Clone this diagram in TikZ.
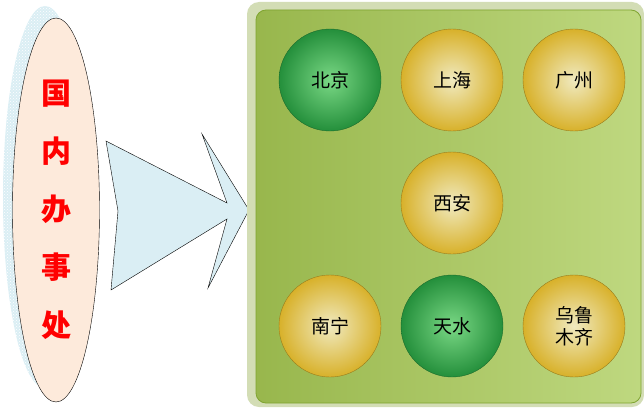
\documentclass[tikz,border=0pt]{standalone}
\usepackage{fontspec}
\newfontfamily\cjk{Noto Sans CJK SC}
\usetikzlibrary{patterns,shapes.geometric}
\definecolor{pale}{HTML}{D3DDB5}
\definecolor{panel}{HTML}{A9CB55}
\definecolor{panelb}{HTML}{7FA430}
\definecolor{gold}{HTML}{D8B12A}
\definecolor{goldin}{HTML}{F0EAC0}
\definecolor{gr}{HTML}{2DB34A}
\definecolor{grin}{HTML}{7AD885}
\definecolor{skin}{HTML}{FDEADB}
\definecolor{lblue}{HTML}{DAEEF4}
\tikzset{
 city/.style={circle,minimum size=102pt,inner sep=0pt,draw=gold!70!black,line width=0.4pt,
   inner color=goldin,outer color=gold,font=\cjk\fontsize{19pt}{22pt}\selectfont,align=center},
 citygreen/.style={city,inner color=grin,outer color=gr!80!black,draw=gr!60!black},
}
\begin{document}
\begin{tikzpicture}[x=1pt,y=-1pt]
\useasboundingbox (0,0) rectangle (644,409);
% left ellipse
\fill[lblue] (45,197) ellipse [x radius=42, y radius=191];
\fill[pattern=crosshatch dots,pattern color=white] (45,197) ellipse [x radius=42, y radius=191];
\node[ellipse,draw=black,fill=skin,minimum width=87pt,minimum height=384pt,inner sep=0pt] (org) at (56,210) {};
\node[text=red,font=\cjk\bfseries\fontsize{30pt}{58pt}\selectfont,align=center] (orgt) at (56,210) {国\\内\\办\\事\\处};
% arrow
\draw[fill=lblue,line width=0.4pt] (106,141) -- (227,203) -- (202,134) -- (249,210) -- (208,288) -- (227,219) -- (111,290) -- (118,211) -- cycle;
% panel
\fill[pale,rounded corners=12pt] (247,2) rectangle (644,407);
\draw[panelb,line width=0.8pt,left color=panel!90!black,right color=panel!75!white,rounded corners=10pt] (256,10) rectangle (641,403);
% cities
\node[citygreen] (bj) at (330,80) {北京};
\node[city] (sh) at (452,80) {上海};
\node[city] (gz) at (574,80) {广州};
\node[city] (xa) at (452,203) {西安};
\node[city] (nn) at (330,326) {南宁};
\node[citygreen] (ts) at (452,326) {天水};
\node[city] (wl) at (574,326) {乌鲁\\木齐};
\end{tikzpicture}
\end{document}
